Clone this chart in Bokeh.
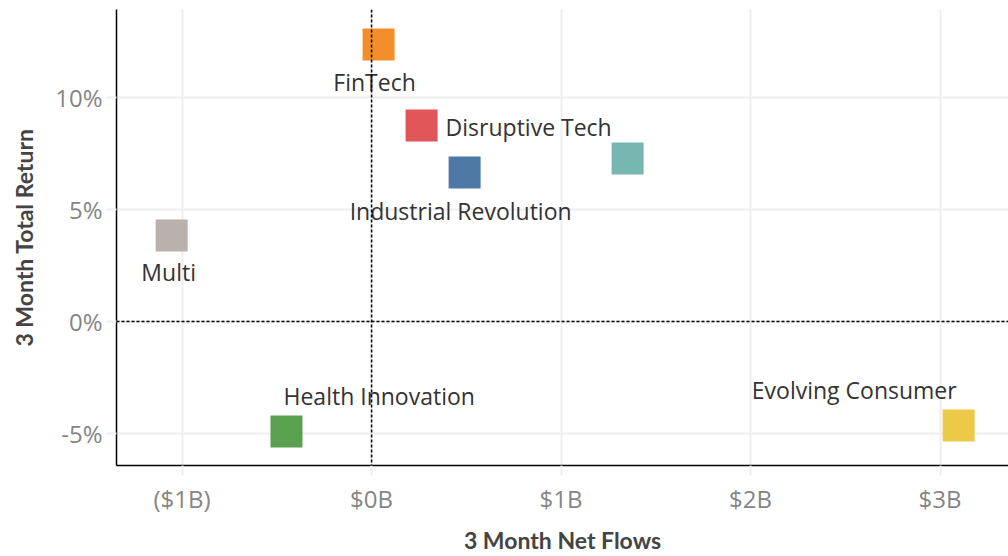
from bokeh.plotting import figure
from bokeh.models import ColumnDataSource, FixedTicker, Span, Range1d
from bokeh.core.properties import value
from bokeh.embed import file_html
from bokeh.resources import INLINE

# ---- data ----
names = ["FinTech", "Disruptive Tech", "Industrial Revolution", "", "Multi",
         "Health Innovation", "Evolving Consumer"]
net_flows_b = [0.037, 0.264, 0.491, 1.351, -1.055, -0.449, 3.098]   # $B
total_return_pct = [12.37, 8.75, 6.65, 7.28, 3.84, -4.91, -4.64]    # %
colors = ["#F28E2B", "#E15759", "#4E79A7", "#76B7B2", "#BAB0AC", "#59A14F", "#EDC948"]

x_ticks = [-1, 0, 1, 2, 3]
x_tick_labels = ["($1B)", "$0B", "$1B", "$2B", "$3B"]
y_ticks = [-5, 0, 5, 10]
y_tick_labels = ["-5%", "0%", "5%", "10%"]

# label placement (layout, not data): align, x offset, y offset (screen px, + is down)
label_place = {
    "FinTech": ("center", -4, 38),
    "Disruptive Tech": ("left", 24, 1),
    "Industrial Revolution": ("center", -4, 38),
    "Multi": ("center", -3, 37),
    "Health Innovation": ("left", -3, -35),
    "Evolving Consumer": ("right", -2, -35),
}

FONT = "Open Sans"

p = figure(width=1008, height=556, output_backend="svg", toolbar_location=None,
           x_range=Range1d(-1.346, 3.361), y_range=Range1d(-6.43, 13.93),
           min_border_left=116, min_border_right=0, min_border_top=9, min_border_bottom=91)
p.outline_line_color = None
p.background_fill_color = "white"
p.border_fill_color = "white"

src = ColumnDataSource(dict(x=net_flows_b, y=total_return_pct, c=colors, name=names))
p.scatter("x", "y", source=src, marker="square", size=32, fill_color="c",
          line_color=None)

p.add_layout(Span(location=0, dimension="height", line_color="black",
                  line_width=1.5, line_dash="3 2"))
p.add_layout(Span(location=0, dimension="width", line_color="black",
                  line_width=1.5, line_dash="3 2"))

for n, xv, yv in zip(names, net_flows_b, total_return_pct):
    if not n:
        continue
    align, xo, yo = label_place[n]
    p.text(x=[xv], y=[yv], text=[n], x_offset=xo, y_offset=yo,
           text_align=align, text_baseline="middle",
           text_font=value(FONT), text_font_size="23px", text_color="#333333")

# axes
p.xaxis.ticker = FixedTicker(ticks=x_ticks)
p.xaxis.major_label_overrides = {t: l for t, l in zip(x_ticks, x_tick_labels)}
p.yaxis.ticker = FixedTicker(ticks=y_ticks)
p.yaxis.major_label_overrides = {t: l for t, l in zip(y_ticks, y_tick_labels)}

for ax in (p.xaxis[0], p.yaxis[0]):
    ax.axis_line_color = "black"
    ax.axis_line_width = 1.5
    ax.major_tick_line_color = "#eeeeee"
    ax.major_tick_line_width = 2
    ax.major_tick_out = 10
    ax.major_tick_in = 0
    ax.minor_tick_line_color = None
    ax.major_label_text_font = FONT
    ax.major_label_text_font_size = "24px"
    ax.major_label_text_color = "#858585"
    ax.axis_label_text_font = "Lato"
    ax.axis_label_text_font_size = "23px"
    ax.axis_label_text_font_style = "bold"
    ax.axis_label_text_color = "#444444"

p.xaxis.axis_label = "3 Month Net Flows"
p.yaxis.axis_label = "3 Month Total Return"
p.xaxis.major_label_standoff = 6
p.xaxis.axis_label_standoff = 8
p.yaxis.major_label_standoff = 4
p.yaxis.axis_label_standoff = 14

p.xgrid.ticker = FixedTicker(ticks=x_ticks)
p.ygrid.ticker = FixedTicker(ticks=y_ticks)
p.grid.grid_line_color = "#eeeeee"
p.grid.grid_line_width = 2

open("out.html", "w").write(file_html(p, INLINE))
